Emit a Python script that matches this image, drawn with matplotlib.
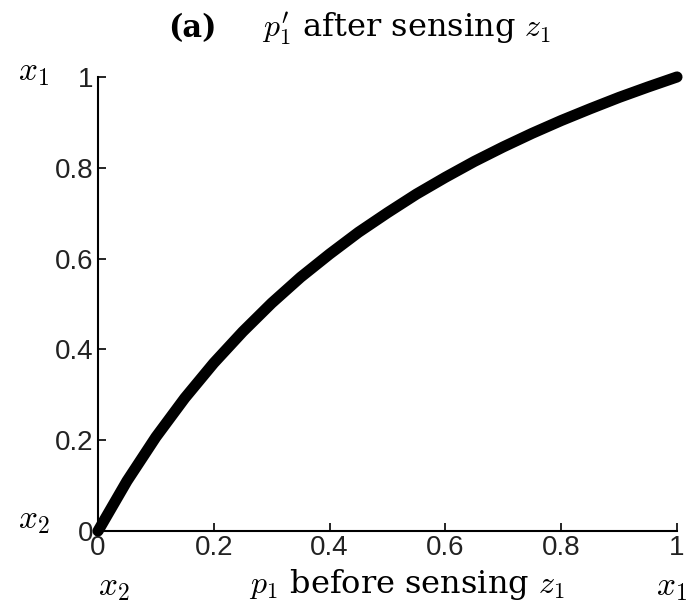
import numpy as np
import matplotlib
matplotlib.use('Agg')
import matplotlib.pyplot as plt

plt.rcParams['mathtext.fontset'] = 'cm'

# p1 before sensing z1 -> p1' after sensing z1
p_before = [0, 0.05, 0.1, 0.15, 0.2, 0.25, 0.3, 0.35, 0.4, 0.45, 0.5,
            0.55, 0.6, 0.65, 0.7, 0.75, 0.8, 0.85, 0.9, 0.95, 1.0]
p_after = [0, 0.110, 0.207, 0.293, 0.370, 0.439, 0.502, 0.559, 0.610, 0.658, 0.701,
           0.742, 0.779, 0.814, 0.846, 0.876, 0.904, 0.930, 0.955, 0.978, 1.0]

ticks = [0, 0.2, 0.4, 0.6, 0.8, 1]
tick_labels = ['0', '0.2', '0.4', '0.6', '0.8', '1']

fig = plt.figure(figsize=(6.96, 6.08), dpi=100)
ax = fig.add_axes([0.1408, 0.1266, 0.8319, 0.7468])

ax.plot(p_before, p_after, color='black', lw=8, solid_capstyle='round', clip_on=False)

ax.set_xlim(0, 1)
ax.set_ylim(0, 1)
ax.set_xticks(ticks)
ax.set_yticks(ticks)
ax.set_xticklabels(tick_labels, family='Liberation Sans', fontsize=20, color='#222222')
ax.set_yticklabels(tick_labels, family='Liberation Sans', fontsize=20, color='#222222')
ax.tick_params(direction='in', length=6, width=1.2, pad=3)
for s in ['top', 'right']:
    ax.spines[s].set_visible(False)
for s in ['left', 'bottom']:
    ax.spines[s].set_linewidth(1.5)

serif = 'DejaVu Serif'
fig.text(0.241, 0.953, '(a)', family=serif, fontsize=22, fontweight='bold',
         ha='left', va='center')
fig.text(0.376, 0.953, r"$p_1'$ after sensing $z_1$", family=serif, fontsize=23,
         ha='left', va='center')

fig.text(0.026, 0.882, r'$x_1$', fontsize=24, ha='left', va='center')
fig.text(0.026, 0.145, r'$x_2$', fontsize=24, ha='left', va='center')
fig.text(0.141, 0.036, r'$x_2$', fontsize=24, ha='left', va='center')
fig.text(0.943, 0.036, r'$x_1$', fontsize=24, ha='left', va='center')
fig.text(0.585, 0.038, r'$p_1$ before sensing $z_1$', family=serif, fontsize=23,
         ha='center', va='center')

fig.savefig('out.png', dpi=100)
